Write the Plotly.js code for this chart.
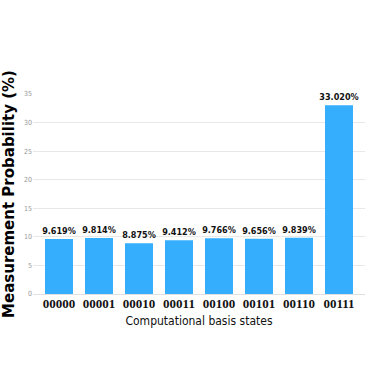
<!DOCTYPE html>
<html>
<head>
<meta charset="utf-8">
<script src="https://cdn.plot.ly/plotly-3.0.1.min.js"></script>
<style>
  html, body { margin: 0; padding: 0; background: #fff; }
  #chart { width: 374px; height: 388px; }
</style>
</head>
<body>
<div id="chart"></div>
<script>
// 计算基态及测量概率 (%)
const states = ['00000', '00001', '00010', '00011', '00100', '00101', '00110', '00111'];
const probabilities = [9.619, 9.814, 8.875, 9.412, 9.766, 9.656, 9.839, 33.020];
const yTicks = [0, 5, 10, 15, 20, 25, 30, 35];

const barLabels = probabilities.map(p => p.toFixed(3) + '%');

const narrow = "DejaVu Sans Condensed, sans-serif";

const data = [{
    x: states,
    y: probabilities,
    type: 'bar',
    marker: { color: '#35aefe' },
    text: barLabels,
    textposition: 'outside',
    constraintext: 'none',
    cliponaxis: false,
    textfont: { family: narrow, size: 9, color: '#111', weight: 'bold' },
    hoverinfo: 'none'
}];

const layout = {
    width: 374,
    height: 388,
    margin: { l: 33, r: 9, t: 94, b: 94 },
    paper_bgcolor: '#fff',
    plot_bgcolor: '#fff',
    bargap: 0.3,
    showlegend: false,
    xaxis: {
        type: 'category',
        range: [-0.65, 7.65],
        showgrid: false,
        zeroline: false,
        showline: false,
        ticks: '',
        tickfont: { family: 'Liberation Serif', size: 13, color: '#111', weight: 'bold' },
        title: {
            text: 'Computational basis states',
            font: { family: narrow, size: 12, color: '#111' },
            standoff: 6
        }
    },
    yaxis: {
        range: [0, 35],
        tickvals: yTicks,
        showgrid: true,
        gridcolor: '#e8e8e8',
        gridwidth: 1,
        zeroline: true,
        zerolinecolor: '#e0e0e0',
        showline: false,
        ticks: '',
        tickfont: { family: narrow, size: 7, color: '#999' },
        title: {
            text: 'Measurement Probability (%)',
            font: { family: 'DejaVu Sans', size: 15, color: '#000', weight: 'bold' }
        }
    }
};

Plotly.newPlot('chart', data, layout, { displayModeBar: false, staticPlot: true });
</script>
</body>
</html>
